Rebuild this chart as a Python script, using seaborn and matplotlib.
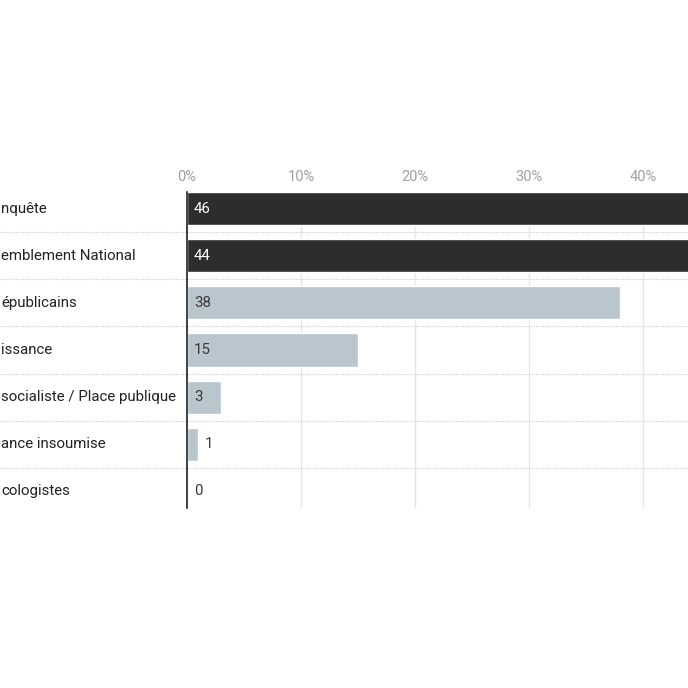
import matplotlib
matplotlib.use("Agg")
import matplotlib.pyplot as plt
import matplotlib.transforms as mtransforms
import seaborn as sns

# labels as they show in the cropped original
parties = [
    "nquête",
    "emblement National",
    "épublicains",
    "issance",
    "socialiste / Place publique",
    "ance insoumise",
    "cologistes",
]
values = [46, 44, 38, 15, 3, 1, 0]
bar_colors = ["#2d2d2d", "#2d2d2d", "#b9c6ce", "#b9c6ce", "#b9c6ce", "#b9c6ce", "#b9c6ce"]
text_colors = ["white", "white", "#3a3a3a", "#3a3a3a", "#3a3a3a", "#3a3a3a", "#3a3a3a"]
ticks = [0, 10, 20, 30, 40]

sns.set_style("white")
plt.rcParams["font.family"] = ["Roboto", "DejaVu Sans"]

fig = plt.figure(figsize=(6.88, 6.88), dpi=100)
W, H = 688, 688
# axes runs past the right edge of the figure, like the cropped original
ax = fig.add_axes([187 / W, 1 - 508 / H, 570 / W, 316 / H])

sns.barplot(x=values, y=parties, hue=parties, palette=bar_colors, legend=False,
            orient="h", width=0.7, saturation=1, ax=ax, zorder=3)

ax.set_xlim(0, 50)
ax.set_ylim(6.35, -0.35)
ax.xaxis.tick_top()
ax.set_xticks(ticks)
ax.set_xticklabels([f"{t}%" for t in ticks], color="#a0a0a0", fontsize=10.5)
ax.tick_params(axis="x", length=0, pad=6)
ax.set_yticks([])
ax.set_xlabel("")
ax.set_ylabel("")
ax.grid(axis="x", color="#e6e6e6", linewidth=1, zorder=0)
ax.grid(axis="y", visible=False)
for side in ["top", "right", "bottom"]:
    ax.spines[side].set_visible(False)
ax.spines["left"].set_color("#222222")
ax.spines["left"].set_linewidth(1.2)
ax.spines["left"].set_zorder(5)

# dotted row separators, running under the labels too
for i in range(len(parties) - 1):
    ax.axhline(i + 0.5, xmin=-187 / 570, xmax=1, color="#d0d0d0",
               linestyle=(0, (1, 1)), linewidth=0.8, clip_on=False, zorder=1)

# category labels at the left edge of the figure
trans = mtransforms.blended_transform_factory(fig.transFigure, ax.transData)
for i, name in enumerate(parties):
    ax.text(1 / W, i, name, transform=trans, ha="left", va="center",
            fontsize=10.8, color="#222222")

# value labels
for i, v in enumerate(values):
    if v >= 3 or v == 0:
        x, c = 0.6, text_colors[i]
    else:
        x, c = v + 0.6, "#3a3a3a"
    ax.text(x, i, str(v), ha="left", va="center", fontsize=10.8, color=c, zorder=6)

fig.savefig("out.png", dpi=100)
